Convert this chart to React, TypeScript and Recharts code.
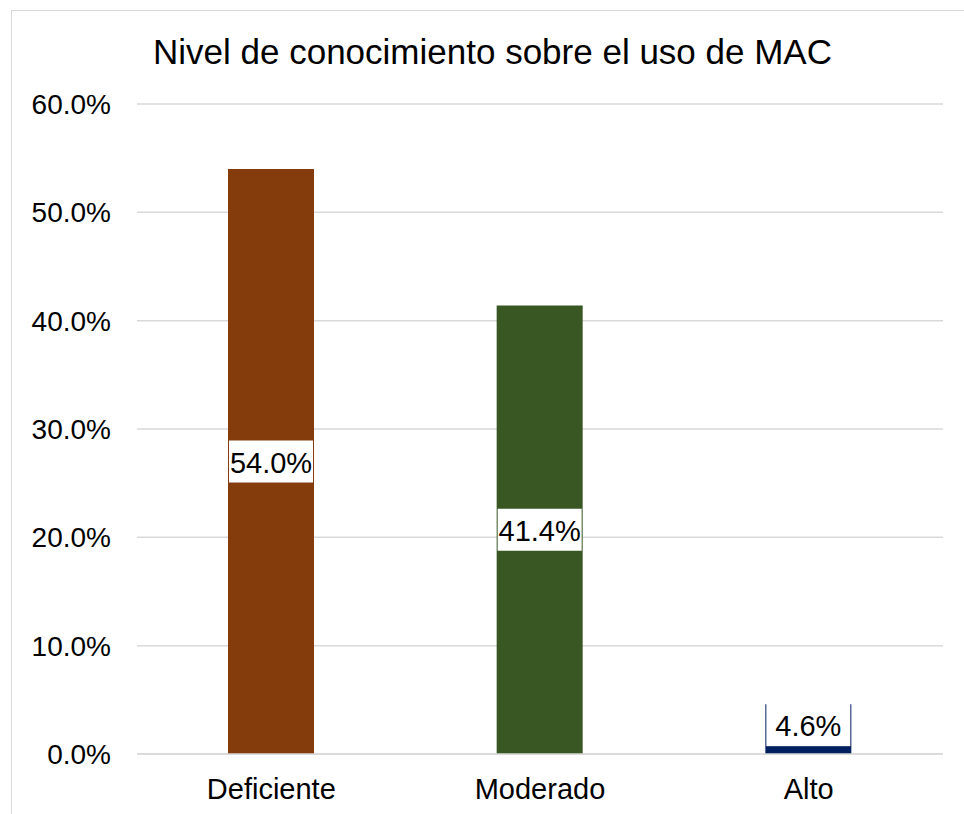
import React from "react";
import {
  BarChart,
  Bar,
  XAxis,
  YAxis,
  CartesianGrid,
  Cell,
  LabelList,
} from "recharts";

const categories = ["Deficiente", "Moderado", "Alto"];
const percentages = [54.0, 41.4, 4.6];
const barColors = ["#843C0C", "#385723", "#002060"];
const yTicks = [0, 10, 20, 30, 40, 50, 60];

const FONT = '"Liberation Sans", Arial, sans-serif';

const data = categories.map((name, i) => ({ name, value: percentages[i] }));

const fmt = (v: number) => `${Number(v).toFixed(1)}%`;

// label drawn in the middle of the bar, on a white box like the Excel original.
// when the bar is barely taller than the box, Excel pins the box to the bar top
const MiddleLabel = (props: any) => {
  const { x, y, width, height, value } = props;
  const boxH = 42;
  let top = y + height / 2 - boxH / 2;
  let h = boxH;
  if (height - boxH < 12) {
    top = y - 1;
    h = boxH + 1;
  }
  return (
    <g>
      <rect x={x + 1} y={top} width={width - 2} height={h} fill="#ffffff" />
      <text
        x={x + width / 2}
        y={top + h / 2 + 1}
        textAnchor="middle"
        dominantBaseline="central"
        fontFamily={FONT}
        fontSize={29}
        fill="#000000"
      >
        {fmt(value)}
      </text>
    </g>
  );
};

const App: React.FC = () => {
  return (
    <div
      style={{
        position: "absolute",
        left: 0,
        top: 0,
        width: 964,
        height: 814,
        overflow: "hidden",
        background: "#ffffff",
      }}
    >
      <div
        style={{
          position: "absolute",
          left: 11,
          top: 10,
          width: 1000,
          height: 900,
          border: "1px solid #d9d9d9",
        }}
      />
      <div
        style={{
          position: "absolute",
          left: 0,
          top: 31,
          width: 985,
          textAlign: "center",
          fontFamily: FONT,
          fontSize: 35,
          color: "#000000",
          lineHeight: "42px",
        }}
      >
        Nivel de conocimiento sobre el uso de MAC
      </div>
      <div style={{ position: "absolute", left: 0, top: 0 }}>
        <BarChart
          width={964}
          height={814}
          data={data}
          margin={{ top: 104, right: 21, bottom: 0, left: 0 }}
          barSize={86}
        >
          <CartesianGrid vertical={false} stroke="#d9d9d9" strokeWidth={1.5} />
          <XAxis
            dataKey="name"
            height={60}
            tickLine={false}
            axisLine={{ stroke: "#d9d9d9", strokeWidth: 1.5 }}
            tickMargin={18}
            tick={{ fontFamily: FONT, fontSize: 29, fill: "#000000" }}
          />
          <YAxis
            width={137}
            domain={[0, 60]}
            ticks={yTicks}
            tickFormatter={fmt}
            tickLine={false}
            axisLine={false}
            tickMargin={20}
            tick={{ fontFamily: FONT, fontSize: 28, fill: "#000000" }}
          />
          <Bar dataKey="value" isAnimationActive={false}>
            {data.map((_d, i) => (
              <Cell key={`cell-${i}`} fill={barColors[i]} />
            ))}
            <LabelList dataKey="value" content={MiddleLabel} />
          </Bar>
        </BarChart>
      </div>
    </div>
  );
};

export default App;
